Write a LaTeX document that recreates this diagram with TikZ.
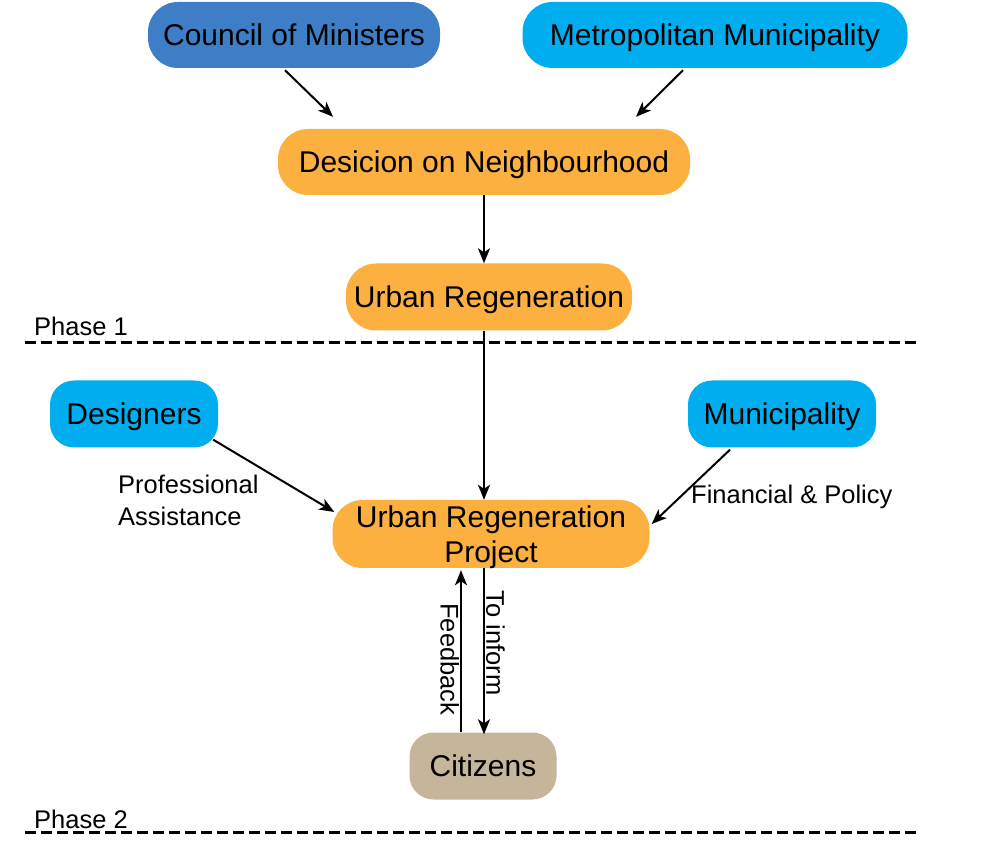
\documentclass[tikz,border=0pt]{standalone}
\usepackage{fontspec}
\setmainfont{Liberation Sans}
\usetikzlibrary{arrows.meta,calc}
\definecolor{ministerblue}{RGB}{61,126,198}
\definecolor{metrocyan}{RGB}{0,174,239}
\definecolor{stageorange}{RGB}{251,176,64}
\definecolor{citizentan}{RGB}{196,181,155}
\begin{document}
\begin{tikzpicture}[x=1pt,y=1pt,
    box/.style={rounded corners=30pt, minimum height=66pt, inner sep=0pt, align=center,
        text depth=0pt, font=\fontsize{30}{35}\selectfont},
    actor/.style={box, fill=metrocyan, rounded corners=24pt},
    stage/.style={box, fill=stageorange},
    flow/.style={-{Stealth[length=15pt,width=12pt,inset=4pt]}, line width=2pt},
    lbl/.style={font=\fontsize{25.5}{32}\selectfont, inner sep=1pt},
    phaseline/.style={line width=3pt, dash pattern=on 11pt off 5pt}]
        \useasboundingbox (0,0) rectangle (985,841);
        % phase 1
        \node[box, fill=ministerblue, minimum width=292pt] (council) at (294,806) {Council of Ministers};
        \node[box, fill=metrocyan, minimum width=385pt] (metro) at (715,806) {Metropolitan Municipality};
        \node[stage, minimum width=412pt] (dec) at (484,679) {Desicion on Neighbourhood};
        \node[stage, minimum width=286pt, minimum height=67pt] (ur) at (489,544) {Urban Regeneration};

        \draw[flow] ($(council.south)+(-9,-2)$) -- ($(dec.north)+(-151,12)$);
        \draw[flow] ($(metro.south)+(-32,-2)$) -- ($(dec.north)+(152,12)$);
        \draw[flow] (dec.south) -- (dec.south |- ur.north);

        \node[lbl, anchor=base west] (ph1) at (33,505) {Phase 1};
        \draw[phaseline] (25,498) -- (918,498);

        % phase 2
        \node[actor, minimum width=168pt, minimum height=67pt] (des) at (134,427) {Designers};
        \node[actor, minimum width=188pt, minimum height=67pt] (mun) at (782,427) {Municipality};
        \node[stage, minimum width=317pt, minimum height=68pt] (urp) at (491,307) {Urban Regeneration\\Project};
        \node[box, fill=citizentan, rounded corners=24pt, minimum width=147pt, minimum height=67pt] (cit) at (483,75) {Citizens};

        \draw[flow] (ur.south -| dec.south) -- (dec.south |- urp.north);
        \draw[flow] ($(des.south east)+(-5,8)$) -- ($(urp.west)+(2,22)$);
        \draw[flow] ($(mun.south)+(-52,-2)$) -- ($(urp.east)+(2,10)$);
        \draw[flow] ($(urp.south)+(-7,0)$) -- node[lbl, pos=0.45, rotate=-90, anchor=south] {To inform} ($(cit.north)+(1,-2)$);
        \draw[flow] ($(cit.north)+(-22,0)$) -- node[lbl, pos=0.45, rotate=-90, anchor=north] {Feedback} ($(urp.south)+(-30,-2)$);

        \node[lbl, align=left, anchor=west] (assist) at (117,341) {Professional\\Assistance};
        \node[lbl, anchor=west] (policy) at (690,344) {Financial \& Policy};

        \node[lbl, anchor=base west] (ph2) at (33,13) {Phase 2};
        \draw[phaseline] (25,9) -- (918,9);
    \end{tikzpicture}
\end{document}
